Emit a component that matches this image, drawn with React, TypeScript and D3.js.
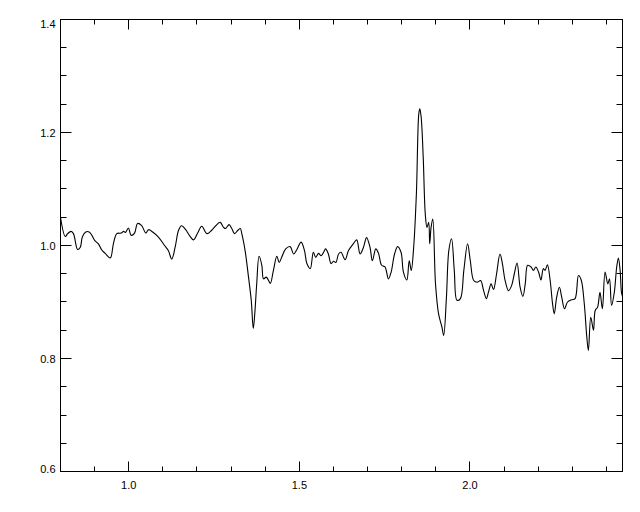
import React, { useEffect, useRef } from "react";
import * as d3 from "d3";

// wavelength (x) and normalised flux (y)
const wavelength = [
  0.8, 0.814, 0.821, 0.831, 0.838, 0.85, 0.858, 0.864, 0.874, 0.884, 0.892, 0.9, 0.911, 0.921, 0.931, 0.946,
  0.955, 0.965, 0.978, 0.985, 0.99, 0.999, 1.007, 1.017, 1.026, 1.038, 1.05, 1.058, 1.07, 1.087, 1.105, 1.116,
  1.126, 1.136, 1.146, 1.155, 1.167, 1.18, 1.19, 1.202, 1.214, 1.229, 1.243, 1.255, 1.268, 1.278, 1.284, 1.294,
  1.302, 1.31, 1.32, 1.327, 1.331, 1.341, 1.351, 1.359, 1.365, 1.37, 1.375, 1.382, 1.39, 1.395, 1.403, 1.409,
  1.415, 1.424, 1.434, 1.441, 1.448, 1.46, 1.473, 1.483, 1.492, 1.505, 1.515, 1.522, 1.532, 1.541, 1.548, 1.556,
  1.564, 1.571, 1.577, 1.585, 1.593, 1.6, 1.607, 1.615, 1.622, 1.634, 1.644, 1.658, 1.668, 1.678, 1.688, 1.697,
  1.707, 1.714, 1.724, 1.732, 1.741, 1.751, 1.761, 1.769, 1.779, 1.788, 1.798, 1.805, 1.815, 1.822, 1.828, 1.835,
  1.843, 1.85, 1.853, 1.857, 1.863, 1.869, 1.874, 1.879, 1.882, 1.886, 1.891, 1.899, 1.908, 1.918, 1.923, 1.931,
  1.938, 1.946, 1.954, 1.962, 1.972, 1.982, 1.993, 2.001, 2.011, 2.021, 2.031, 2.04, 2.048, 2.054, 2.062, 2.069,
  2.078, 2.088, 2.095, 2.103, 2.113, 2.122, 2.13, 2.138, 2.147, 2.155, 2.162, 2.169, 2.179, 2.186, 2.193, 2.201,
  2.208, 2.215, 2.22, 2.227, 2.235, 2.242, 2.247, 2.254, 2.262, 2.269, 2.277, 2.286, 2.298, 2.308, 2.318, 2.326,
  2.335, 2.342, 2.347, 2.354, 2.362, 2.367, 2.374, 2.381, 2.388, 2.396, 2.404, 2.409, 2.415, 2.423, 2.43, 2.435,
  2.44, 2.444, 2.447,
];

const flux = [
  1.05, 1.016, 1.021, 1.025, 1.021, 0.993, 0.997, 1.015, 1.024, 1.024, 1.018, 1.009, 1.003, 0.992, 0.986, 0.978,
  1.003, 1.021, 1.022, 1.025, 1.023, 1.031, 1.018, 1.022, 1.039, 1.035, 1.022, 1.028, 1.024, 1.015, 1.0, 0.991,
  0.976, 0.997, 1.027, 1.035, 1.028, 1.016, 1.01, 1.022, 1.034, 1.021, 1.027, 1.035, 1.041, 1.032, 1.03, 1.037,
  1.03, 1.021, 1.027, 1.03, 1.022, 0.991, 0.944, 0.903, 0.853, 0.885, 0.932, 0.981, 0.965, 0.941, 0.944, 0.939,
  0.933, 0.956, 0.981, 0.97, 0.979, 0.994, 0.998, 0.985, 0.992, 1.006, 0.991, 0.968, 0.959, 0.988, 0.979, 0.986,
  0.982, 0.988, 0.994, 0.985, 0.968, 0.972, 0.97, 0.985, 0.988, 0.975, 0.991, 1.003, 1.01, 0.985, 0.997, 1.014,
  0.997, 0.973, 0.994, 0.986, 0.965, 0.962, 0.941, 0.953, 0.985, 0.998, 0.988, 0.953, 0.939, 0.973, 0.956, 0.997,
  1.092, 1.233, 1.242, 1.227, 1.156, 1.056, 1.032, 1.041, 1.003, 1.032, 1.047, 0.932, 0.879, 0.855, 0.841, 0.908,
  0.991, 1.012, 0.956, 0.903, 0.906, 0.956, 1.003, 0.973, 0.938, 0.935, 0.938, 0.92, 0.906, 0.917, 0.932, 0.922,
  0.95, 0.985, 0.968, 0.938, 0.92, 0.929, 0.95, 0.969, 0.926, 0.91, 0.932, 0.965, 0.962, 0.956, 0.962, 0.953,
  0.939, 0.959, 0.956, 0.966, 0.938, 0.897, 0.879, 0.908, 0.926, 0.908, 0.888, 0.9, 0.904, 0.906, 0.947, 0.939,
  0.897, 0.841, 0.814, 0.873, 0.85, 0.885, 0.891, 0.917, 0.888, 0.953, 0.932, 0.941, 0.894, 0.917, 0.962, 0.978,
  0.956, 0.917, 0.91,
];

const xMajor = [1.0, 1.5, 2.0];
const xMinor = [0.9, 1.1, 1.2, 1.3, 1.4, 1.6, 1.7, 1.8, 1.9, 2.1, 2.2, 2.3, 2.4];
const yMajor = [0.6, 0.8, 1.0, 1.2, 1.4];
const yMinor = [0.65, 0.7, 0.75, 0.85, 0.9, 0.95, 1.05, 1.1, 1.15, 1.25, 1.3, 1.35];

const W = 640;
const H = 512;
const margin = { top: 19, right: 18, bottom: 41, left: 60 };

export default function App() {
  const ref = useRef<SVGSVGElement | null>(null);

  useEffect(() => {
    const svg = d3.select(ref.current);
    svg.selectAll("*").remove();

    const width = W - margin.left - margin.right;
    const height = H - margin.top - margin.bottom;

    const x = d3.scaleLinear().domain([0.8, 2.447]).range([0, width]);
    const y = d3.scaleLinear().domain([0.6, 1.4]).range([height, 0]);

    // half-pixel offset keeps the 1px frame and ticks crisp
    const g = svg.append("g").attr("transform", `translate(${margin.left + 0.5},${margin.top + 0.5})`);

    // frame
    g.append("rect")
      .attr("width", width)
      .attr("height", height)
      .attr("fill", "none")
      .attr("stroke", "#000")
      .attr("stroke-width", 1);

    // ticks pointing inwards on all four sides
    const tick = (vals: number[], len: number) => {
      vals.forEach((v) => {
        const px = Math.round(x(v));
        g.append("line").attr("x1", px).attr("x2", px).attr("y1", height).attr("y2", height - len).attr("stroke", "#000");
        g.append("line").attr("x1", px).attr("x2", px).attr("y1", 0).attr("y2", len).attr("stroke", "#000");
      });
    };
    tick(xMajor, 10);
    tick(xMinor, 5);

    const ytick = (vals: number[], len: number) => {
      vals.forEach((v) => {
        const py = Math.round(y(v));
        g.append("line").attr("x1", 0).attr("x2", len).attr("y1", py).attr("y2", py).attr("stroke", "#000");
        g.append("line").attr("x1", width).attr("x2", width - len).attr("y1", py).attr("y2", py).attr("stroke", "#000");
      });
    };
    ytick(yMajor, 11);
    ytick(yMinor, 6);

    // labels
    g.selectAll(".xl")
      .data(xMajor)
      .enter()
      .append("text")
      .attr("x", (d) => x(d))
      .attr("y", height + 17)
      .attr("text-anchor", "middle")
      .attr("font-family", "Liberation Sans, Arial, sans-serif")
      .attr("font-size", "11px")
      .text((d) => d.toFixed(1));

    g.selectAll(".yl")
      .data(yMajor)
      .enter()
      .append("text")
      .attr("x", -5)
      .attr("y", (d) => Math.min(Math.max(y(d) + 4, 8), height + 1))
      .attr("text-anchor", "end")
      .attr("font-family", "Liberation Sans, Arial, sans-serif")
      .attr("font-size", "11px")
      .text((d) => d.toFixed(1));

    // spectrum
    const line = d3
      .line<number>()
      .x((_, i) => x(wavelength[i]))
      .y((d) => y(d))
      .curve(d3.curveCatmullRom.alpha(0.5));

    g.append("path")
      .datum(flux)
      .attr("d", line)
      .attr("fill", "none")
      .attr("stroke", "#000")
      .attr("stroke-width", 1.1);
  }, []);

  return (
    <svg ref={ref} width={W} height={H} style={{ display: "block", position: "absolute", left: 0, top: 0, background: "#fff" }} />
  );
}
